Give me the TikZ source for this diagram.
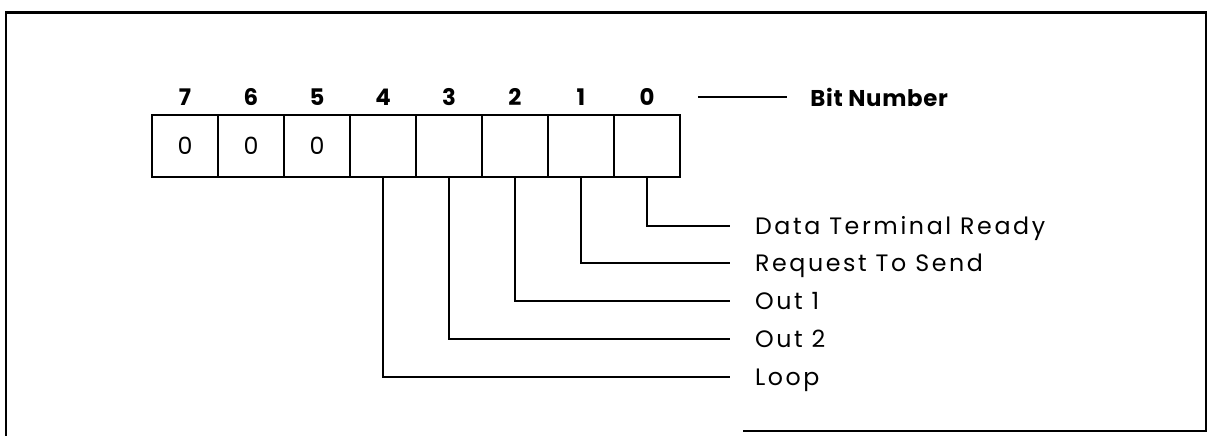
\documentclass[tikz,border=0pt]{standalone}
\usepackage{fontspec}
\setmainfont{Poppins}[LetterSpace=11, BoldFeatures={LetterSpace=3}]
\usepackage{tikz}
\usetikzlibrary{positioning}

\begin{document}
\begin{tikzpicture}[font=\fontsize{13.5}{15}\selectfont,
	cell/.style={draw, line width=1.1pt, minimum width=1.32cm, minimum height=1.24cm, inner sep=0pt},
	bitno/.style={font=\fontsize{13}{15}\selectfont\bfseries, inner sep=0pt},
	tag/.style={anchor=west, inner sep=0pt, outer sep=0.5cm, text height=0.32cm, text depth=0pt},
	wire/.style={line width=0.8pt}]
		\useasboundingbox (0, 0) rectangle (24.18, -8.72);

		% frame (scan shows no bottom edge on the left)
		\draw[line width=1.2pt] (14.86, -8.62) -- (24.12, -8.62) -- (24.12, -0.25) -- (0.12, -0.25) -- (0.12, -8.72);

		% register cells, bit 7 on the left
		\foreach \i in {0,...,7} {
			\node[cell] (b\i) at (12.94-1.32*\i, -2.92) {\ifnum\i>4 0\fi};
			\node[bitno] (n\i) at (12.94-1.32*\i, -1.94) {\i};
		}

		\node[bitno, anchor=west] (bitnum) at (16.2, -1.94) {Bit Number};
		\draw[wire, shorten <=0.86cm, shorten >=0.46cm] (n0.east) -- (bitnum.west);

		% signal names
		\node[tag] (dtr) at (14.6, -4.52) {Data Terminal Ready};
		\node[tag] (rts) at (14.6, -5.26) {Request To Send};
		\node[tag] (out1) at (14.6, -6.02) {Out 1};
		\node[tag] (out2) at (14.6, -6.78) {Out 2};
		\node[tag] (loop) at (14.6, -7.54) {Loop};

		\draw[wire] (b0.south) |- (dtr.west);
		\draw[wire] (b1.south) |- (rts.west);
		\draw[wire] (b2.south) |- (out1.west);
		\draw[wire] (b3.south) |- (out2.west);
		\draw[wire] (b4.south) |- (loop.west);
	\end{tikzpicture}
\end{document}
